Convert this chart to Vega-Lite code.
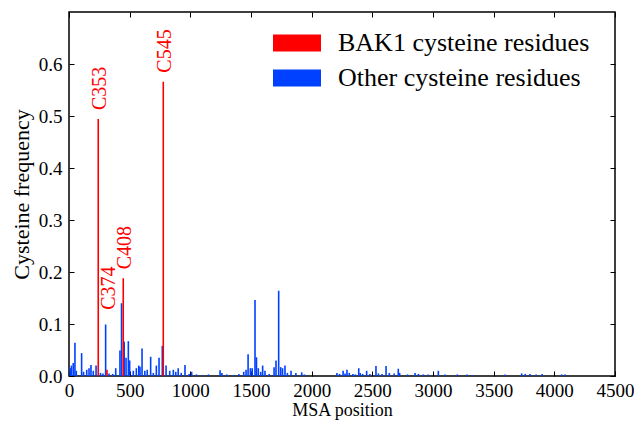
{
  "$schema": "https://vega.github.io/schema/vega-lite/v6.json",
  "width": 546,
  "height": 364,
  "autosize": {"type": "none"},
  "padding": {"left": 69, "top": 12, "right": 19, "bottom": 50},
  "background": "white",
  "config": {
    "view": {"stroke": "black", "strokeWidth": 1.5},
    "font": "Liberation Serif",
    "axis": {
      "domain": false,
      "grid": false,
      "tickColor": "black",
      "tickWidth": 1,
      "labelFont": "Liberation Serif",
      "labelFontSize": 19,
      "labelColor": "black",
      "titleFont": "Liberation Serif",
      "titleFontWeight": "normal",
      "titleColor": "black"
    }
  },
  "resolve": {"axis": {"x": "independent", "y": "independent"}},
  "datasets": {
    "bars": [
      {"position": 10, "frequency": 0.015, "group": "Other cysteine residues"},
      {"position": 20, "frequency": 0.02, "group": "Other cysteine residues"},
      {"position": 35, "frequency": 0.025, "group": "Other cysteine residues"},
      {"position": 49, "frequency": 0.064, "group": "Other cysteine residues"},
      {"position": 60, "frequency": 0.01, "group": "Other cysteine residues"},
      {"position": 104, "frequency": 0.044, "group": "Other cysteine residues"},
      {"position": 120, "frequency": 0.008, "group": "Other cysteine residues"},
      {"position": 146, "frequency": 0.012, "group": "Other cysteine residues"},
      {"position": 165, "frequency": 0.015, "group": "Other cysteine residues"},
      {"position": 181, "frequency": 0.021, "group": "Other cysteine residues"},
      {"position": 200, "frequency": 0.01, "group": "Other cysteine residues"},
      {"position": 223, "frequency": 0.02, "group": "Other cysteine residues"},
      {"position": 260, "frequency": 0.006, "group": "Other cysteine residues"},
      {"position": 280, "frequency": 0.005, "group": "Other cysteine residues"},
      {"position": 302, "frequency": 0.099, "group": "Other cysteine residues"},
      {"position": 330, "frequency": 0.005, "group": "Other cysteine residues"},
      {"position": 360, "frequency": 0.004, "group": "Other cysteine residues"},
      {"position": 385, "frequency": 0.015, "group": "Other cysteine residues"},
      {"position": 420, "frequency": 0.049, "group": "Other cysteine residues"},
      {"position": 433, "frequency": 0.14, "group": "Other cysteine residues"},
      {"position": 455, "frequency": 0.066, "group": "Other cysteine residues"},
      {"position": 470, "frequency": 0.035, "group": "Other cysteine residues"},
      {"position": 489, "frequency": 0.067, "group": "Other cysteine residues"},
      {"position": 500, "frequency": 0.03, "group": "Other cysteine residues"},
      {"position": 530, "frequency": 0.01, "group": "Other cysteine residues"},
      {"position": 555, "frequency": 0.015, "group": "Other cysteine residues"},
      {"position": 575, "frequency": 0.02, "group": "Other cysteine residues"},
      {"position": 585, "frequency": 0.018, "group": "Other cysteine residues"},
      {"position": 602, "frequency": 0.053, "group": "Other cysteine residues"},
      {"position": 625, "frequency": 0.01, "group": "Other cysteine residues"},
      {"position": 645, "frequency": 0.012, "group": "Other cysteine residues"},
      {"position": 673, "frequency": 0.037, "group": "Other cysteine residues"},
      {"position": 695, "frequency": 0.006, "group": "Other cysteine residues"},
      {"position": 720, "frequency": 0.02, "group": "Other cysteine residues"},
      {"position": 742, "frequency": 0.035, "group": "Other cysteine residues"},
      {"position": 769, "frequency": 0.058, "group": "Other cysteine residues"},
      {"position": 800, "frequency": 0.02, "group": "Other cysteine residues"},
      {"position": 830, "frequency": 0.01, "group": "Other cysteine residues"},
      {"position": 860, "frequency": 0.012, "group": "Other cysteine residues"},
      {"position": 880, "frequency": 0.008, "group": "Other cysteine residues"},
      {"position": 900, "frequency": 0.015, "group": "Other cysteine residues"},
      {"position": 925, "frequency": 0.006, "group": "Other cysteine residues"},
      {"position": 956, "frequency": 0.021, "group": "Other cysteine residues"},
      {"position": 990, "frequency": 0.004, "group": "Other cysteine residues"},
      {"position": 1011, "frequency": 0.008, "group": "Other cysteine residues"},
      {"position": 1050, "frequency": 0.003, "group": "Other cysteine residues"},
      {"position": 1100, "frequency": 0.002, "group": "Other cysteine residues"},
      {"position": 1150, "frequency": 0.003, "group": "Other cysteine residues"},
      {"position": 1245, "frequency": 0.011, "group": "Other cysteine residues"},
      {"position": 1260, "frequency": 0.006, "group": "Other cysteine residues"},
      {"position": 1300, "frequency": 0.003, "group": "Other cysteine residues"},
      {"position": 1350, "frequency": 0.002, "group": "Other cysteine residues"},
      {"position": 1400, "frequency": 0.004, "group": "Other cysteine residues"},
      {"position": 1440, "frequency": 0.008, "group": "Other cysteine residues"},
      {"position": 1459, "frequency": 0.012, "group": "Other cysteine residues"},
      {"position": 1476, "frequency": 0.042, "group": "Other cysteine residues"},
      {"position": 1495, "frequency": 0.015, "group": "Other cysteine residues"},
      {"position": 1510, "frequency": 0.015, "group": "Other cysteine residues"},
      {"position": 1533, "frequency": 0.146, "group": "Other cysteine residues"},
      {"position": 1545, "frequency": 0.036, "group": "Other cysteine residues"},
      {"position": 1560, "frequency": 0.015, "group": "Other cysteine residues"},
      {"position": 1580, "frequency": 0.008, "group": "Other cysteine residues"},
      {"position": 1596, "frequency": 0.02, "group": "Other cysteine residues"},
      {"position": 1615, "frequency": 0.01, "group": "Other cysteine residues"},
      {"position": 1650, "frequency": 0.004, "group": "Other cysteine residues"},
      {"position": 1690, "frequency": 0.017, "group": "Other cysteine residues"},
      {"position": 1706, "frequency": 0.03, "group": "Other cysteine residues"},
      {"position": 1728, "frequency": 0.164, "group": "Other cysteine residues"},
      {"position": 1745, "frequency": 0.017, "group": "Other cysteine residues"},
      {"position": 1760, "frequency": 0.015, "group": "Other cysteine residues"},
      {"position": 1780, "frequency": 0.02, "group": "Other cysteine residues"},
      {"position": 1800, "frequency": 0.006, "group": "Other cysteine residues"},
      {"position": 1830, "frequency": 0.01, "group": "Other cysteine residues"},
      {"position": 1870, "frequency": 0.006, "group": "Other cysteine residues"},
      {"position": 1918, "frequency": 0.007, "group": "Other cysteine residues"},
      {"position": 1940, "frequency": 0.003, "group": "Other cysteine residues"},
      {"position": 2208, "frequency": 0.006, "group": "Other cysteine residues"},
      {"position": 2230, "frequency": 0.004, "group": "Other cysteine residues"},
      {"position": 2259, "frequency": 0.01, "group": "Other cysteine residues"},
      {"position": 2275, "frequency": 0.005, "group": "Other cysteine residues"},
      {"position": 2291, "frequency": 0.012, "group": "Other cysteine residues"},
      {"position": 2310, "frequency": 0.006, "group": "Other cysteine residues"},
      {"position": 2340, "frequency": 0.004, "group": "Other cysteine residues"},
      {"position": 2360, "frequency": 0.003, "group": "Other cysteine residues"},
      {"position": 2388, "frequency": 0.015, "group": "Other cysteine residues"},
      {"position": 2400, "frequency": 0.006, "group": "Other cysteine residues"},
      {"position": 2420, "frequency": 0.004, "group": "Other cysteine residues"},
      {"position": 2453, "frequency": 0.01, "group": "Other cysteine residues"},
      {"position": 2480, "frequency": 0.004, "group": "Other cysteine residues"},
      {"position": 2530, "frequency": 0.019, "group": "Other cysteine residues"},
      {"position": 2550, "frequency": 0.005, "group": "Other cysteine residues"},
      {"position": 2580, "frequency": 0.004, "group": "Other cysteine residues"},
      {"position": 2613, "frequency": 0.019, "group": "Other cysteine residues"},
      {"position": 2640, "frequency": 0.006, "group": "Other cysteine residues"},
      {"position": 2680, "frequency": 0.005, "group": "Other cysteine residues"},
      {"position": 2714, "frequency": 0.014, "group": "Other cysteine residues"},
      {"position": 2725, "frequency": 0.006, "group": "Other cysteine residues"},
      {"position": 2790, "frequency": 0.003, "group": "Other cysteine residues"},
      {"position": 2852, "frequency": 0.006, "group": "Other cysteine residues"},
      {"position": 2880, "frequency": 0.004, "group": "Other cysteine residues"},
      {"position": 2920, "frequency": 0.003, "group": "Other cysteine residues"},
      {"position": 2960, "frequency": 0.003, "group": "Other cysteine residues"},
      {"position": 3044, "frequency": 0.01, "group": "Other cysteine residues"},
      {"position": 3100, "frequency": 0.003, "group": "Other cysteine residues"},
      {"position": 3200, "frequency": 0.003, "group": "Other cysteine residues"},
      {"position": 3280, "frequency": 0.003, "group": "Other cysteine residues"},
      {"position": 3330, "frequency": 0.002, "group": "Other cysteine residues"},
      {"position": 3594, "frequency": 0.003, "group": "Other cysteine residues"},
      {"position": 3731, "frequency": 0.005, "group": "Other cysteine residues"},
      {"position": 3760, "frequency": 0.004, "group": "Other cysteine residues"},
      {"position": 3800, "frequency": 0.004, "group": "Other cysteine residues"},
      {"position": 3850, "frequency": 0.003, "group": "Other cysteine residues"},
      {"position": 3900, "frequency": 0.004, "group": "Other cysteine residues"},
      {"position": 4060, "frequency": 0.003, "group": "Other cysteine residues"},
      {"position": 4090, "frequency": 0.003, "group": "Other cysteine residues"},
      {"position": 241, "frequency": 0.494, "group": "BAK1 cysteine residues"},
      {"position": 313, "frequency": 0.012, "group": "BAK1 cysteine residues"},
      {"position": 447, "frequency": 0.188, "group": "BAK1 cysteine residues"},
      {"position": 777, "frequency": 0.566, "group": "BAK1 cysteine residues"}
    ],
    "labels": [
      {"label": "C353", "position": 241, "frequency": 0.494},
      {"label": "C374", "position": 313, "frequency": 0.012},
      {"label": "C408", "position": 447, "frequency": 0.188},
      {"label": "C545", "position": 777, "frequency": 0.566}
    ]
  },
  "layer": [
    {
      "data": {"name": "bars"},
      "mark": {"type": "bar", "orient": "vertical", "width": 1.6},
      "encoding": {
        "x": {
          "field": "position", "type": "quantitative",
          "scale": {"domain": [0, 4500], "nice": false, "zero": false, "padding": 0},
          "axis": {"title": "MSA position", "values": [0, 500, 1000, 1500, 2000, 2500, 3000, 3500, 4000, 4500], "format": "d", "ticks": false, "labelFlush": false, "labelOverlap": false, "labelFontSize": 19, "labelFont": "Liberation Serif", "labelBaseline": "top", "labelPadding": 5, "titleFontSize": 18, "titlePadding": 1}
        },
        "y": {
          "field": "frequency", "type": "quantitative",
          "scale": {"domain": [0, 0.7], "nice": false, "padding": 0},
          "axis": {"title": "Cysteine frequency", "values": [0, 0.1, 0.2, 0.3, 0.4, 0.5, 0.6], "format": ".1f", "ticks": false, "labelPadding": 7, "titleFontSize": 22, "titlePadding": 5}
        },
        "color": {
          "field": "group", "type": "nominal",
          "scale": {"domain": ["BAK1 cysteine residues", "Other cysteine residues"], "range": ["#ff0000", "#0040ff"]},
          "legend": {
            "title": null,
            "orient": "none",
            "legendX": 215,
            "legendY": 18,
            "symbolType": "M-2,-0.7H2V0.7H-2Z",
            "symbolSize": 576,
            "symbolStrokeWidth": 0,
            "symbolOpacity": 1,
            "labelFont": "Liberation Serif",
            "labelFontSize": 26,
            "labelColor": "black",
            "labelOffset": 28,
            "rowPadding": 9,
            "labelLimit": 400
          }
        }
      }
    },
    {
      "data": {"name": "bars"},
      "mark": {"type": "point", "opacity": 0},
      "encoding": {
        "x": {"field": "position", "type": "quantitative", "axis": {"orient": "top", "labels": false, "title": null, "tickSize": -5, "values": [0, 500, 1000, 1500, 2000, 2500, 3000, 3500, 4000, 4500]}},
        "y": {"field": "frequency", "type": "quantitative", "axis": {"orient": "right", "labels": false, "title": null, "tickSize": -5, "values": [0, 0.1, 0.2, 0.3, 0.4, 0.5, 0.6]}}
      }
    },
    {
      "data": {"name": "bars"},
      "mark": {"type": "point", "opacity": 0},
      "encoding": {
        "x": {"field": "position", "type": "quantitative", "axis": {"orient": "bottom", "labels": false, "title": null, "tickSize": -5, "values": [0, 500, 1000, 1500, 2000, 2500, 3000, 3500, 4000, 4500]}},
        "y": {"field": "frequency", "type": "quantitative", "axis": {"orient": "left", "labels": false, "title": null, "tickSize": -5, "values": [0, 0.1, 0.2, 0.3, 0.4, 0.5, 0.6]}}
      }
    },
    {
      "data": {"name": "labels"},
      "transform": [{"filter": "datum.label != 'C374'"}],
      "mark": {"type": "text", "angle": 270, "align": "left", "baseline": "middle", "dx": 9, "dy": 2, "color": "#ff0000", "font": "Liberation Serif", "fontSize": 20},
      "encoding": {
        "x": {"field": "position", "type": "quantitative", "axis": null},
        "y": {"field": "frequency", "type": "quantitative", "axis": null},
        "text": {"field": "label"}
      }
    },
    {
      "data": {"name": "labels"},
      "transform": [{"filter": "datum.label == 'C374'"}],
      "mark": {"type": "text", "angle": 270, "align": "left", "baseline": "middle", "dx": 60, "dy": 2, "color": "#ff0000", "font": "Liberation Serif", "fontSize": 20},
      "encoding": {
        "x": {"field": "position", "type": "quantitative", "axis": null},
        "y": {"field": "frequency", "type": "quantitative", "axis": null},
        "text": {"field": "label"}
      }
    }
  ]
}
